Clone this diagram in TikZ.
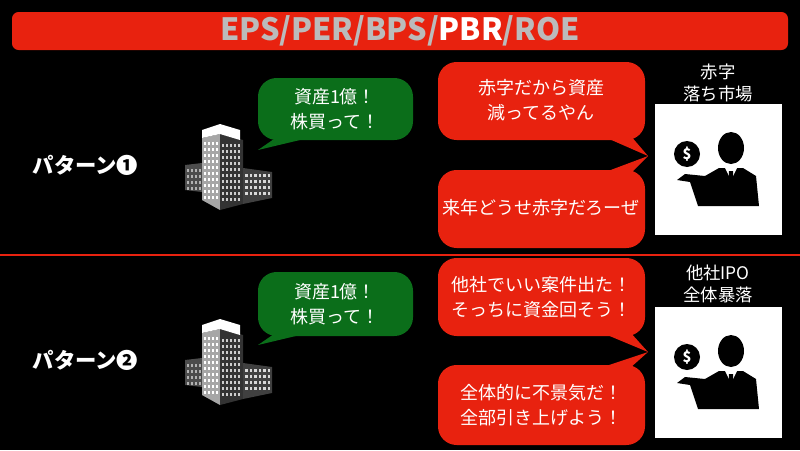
\documentclass[tikz,border=0pt]{standalone}
\usepackage{fontspec}
\setmainfont{Noto Sans CJK JP}
\definecolor{myred}{HTML}{E8220F}
\definecolor{mygreen}{HTML}{0B6E1A}
\definecolor{tgray}{HTML}{BBBBBB}
\begin{document}
\begin{tikzpicture}[x=0.75pt,y=-0.75pt,
  txt/.style={text=white,font=\fontsize{13.5}{19}\selectfont,align=center},
  bub/.style={rounded corners=14pt},
  lab/.style={text=white,font=\fontsize{13}{16}\selectfont,align=center},
  pat/.style={text=white,font=\fontsize{16}{18}\selectfont\bfseries,anchor=west}]
\fill[black] (0,0) rectangle (800,450);
\useasboundingbox (0,0) rectangle (800,450);
% title
\fill[myred,rounded corners=5pt] (12,12) rectangle (788,50);
\node (title) at (400,31) {\fontsize{23}{26}\selectfont\bfseries\textcolor{tgray}{EPS/PER/BPS/}\textcolor{white}{PBR}\textcolor{tgray}{/ROE}};
\draw[myred,line width=1pt] (0,255) -- (800,255);
\newcommand{\mybuilding}[2]{%
  \begin{scope}[shift={(#1,#2)}]
   \fill[gray!60!black] (0,45) -- (17,43) -- (17,72) -- (0,70) -- cycle;
   \fill[gray!70] (17,18) -- (35,14) -- (35,90) -- (17,80) -- cycle;
   \fill[gray!40!black] (35,14) -- (58,20) -- (58,84) -- (35,90) -- cycle;
   \fill[gray!50!black] (58,48) -- (87,52) -- (87,78) -- (58,84) -- cycle;
   \fill[white] (17,10) -- (35,4) -- (55,10) -- (55,20) -- (35,14) -- (17,18) -- cycle;
   \foreach \i in {0,...,9}{\foreach \j in {0,...,3}{\fill[white] (19+\j*4,22+\i*6) rectangle ++(2,3);}}
   \foreach \i in {0,...,9}{\foreach \j in {0,...,4}{\fill[white!80!black] (37+\j*4,24+\i*6) rectangle ++(2,3);}}
   \foreach \i in {0,...,3}{\foreach \j in {0,...,5}{\fill[white!85!black] (60+\j*4.5,54+\i*6) rectangle ++(2.5,3);}}
   \foreach \i in {0,...,3}{\foreach \j in {0,...,3}{\fill[white!70!black] (2+\j*4,49+\i*6) rectangle ++(2,2.5);}}
  \end{scope}}
\newcommand{\myperson}[2]{%
  \begin{scope}[shift={(#1,#2)}]
   \fill[white] (0,0) rectangle (127,131);
   \fill[black] (32,50) circle (13);
   \node[text=white,font=\bfseries\fontsize{11}{11}\selectfont] at (32,50) {\$};
   \fill[black] (76,44) ellipse (13 and 16);
   \fill[black] (50,72) -- (64,64) -- (88,64) -- (101,72) -- (104,102) -- (43,102) -- (35,78) -- (22,76) -- (30,70) -- cycle;
   \fill[white] (70,64) -- (76,76) -- (82,64) -- cycle;
   \fill[black] (74,67) -- (78,67) -- (79,92) -- (76,97) -- (73,92) -- cycle;
  \end{scope}}
% pattern 1
\node[pat] (p1) at (28,165) {パターン❶};
\mybuilding{185}{120}
\fill[mygreen] (258,150) -- (290,128) -- (300,140) -- cycle;
\fill[mygreen,bub] (258,78) rectangle (413,140);
\node[txt] (g1) at (335,109) {資産1億！\\株買って！};
\fill[myred] (600,135) -- (648,156) -- (630,135) -- cycle;
\fill[myred] (600,174) -- (648,156) -- (630,174) -- cycle;
\fill[myred,bub] (438,62) rectangle (645,140);
\node[txt] (r1) at (541,100) {赤字だから資産\\減ってるやん};
\fill[myred,bub] (438,170) rectangle (645,248);
\node[txt] (r2) at (541,208) {来年どうせ赤字だろーぜ};
\myperson{655}{104}
\node[lab] (l1) at (718,83) {赤字\\落ち市場};
% pattern 2
\node[pat] (p2) at (28,360) {パターン➋};
\mybuilding{185}{315}
\fill[mygreen] (258,345) -- (290,323) -- (300,335) -- cycle;
\fill[mygreen,bub] (258,272) rectangle (413,336);
\node[txt] (g2) at (335,304) {資産1億！\\株買って！};
\fill[myred] (600,332) -- (648,352) -- (630,332) -- cycle;
\fill[myred] (600,368) -- (648,352) -- (630,368) -- cycle;
\fill[myred,bub] (438,258) rectangle (645,336);
\node[txt] (r3) at (541,297) {他社でいい案件出た！\\そっちに資金回そう！};
\fill[myred,bub] (438,365) rectangle (645,445);
\node[txt] (r4) at (541,405) {全体的に不景気だ！\\全部引き上げよう！};
\myperson{655}{307}
\node[lab] (l2) at (718,284) {他社IPO\\全体暴落};
\end{tikzpicture}
\end{document}
